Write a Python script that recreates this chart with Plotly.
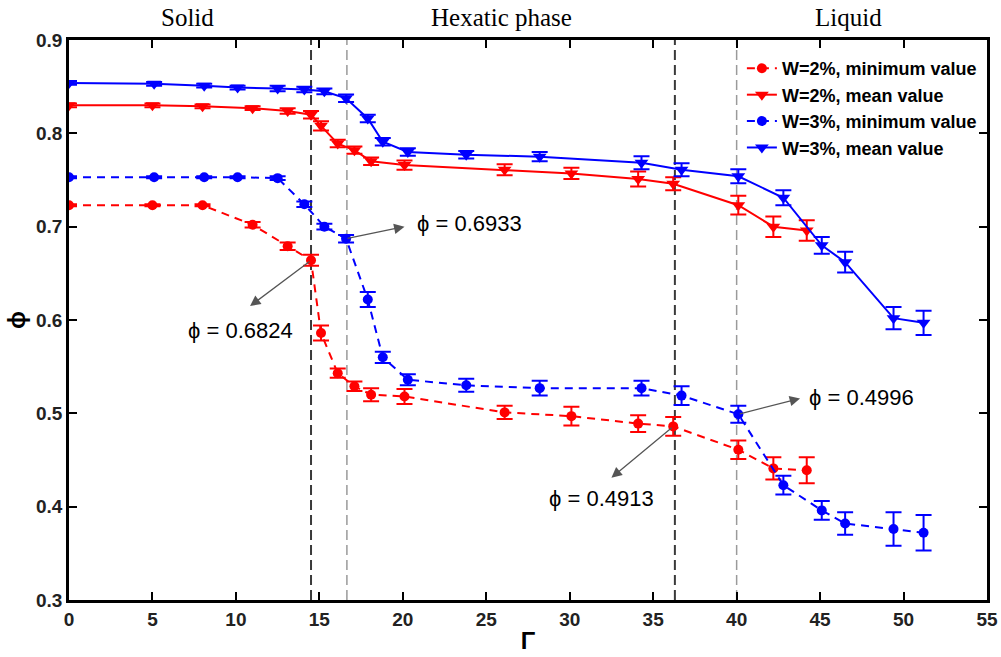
import plotly.graph_objects as go

# ---------------- data ----------------
gamma_red = [0, 5, 8, 11, 13.1, 14.5, 15.1, 16.1, 17.1, 18.1, 20.1, 26.1, 30.1, 34.1, 36.2, 40.1, 42.2, 44.2]
red_min = [0.723, 0.723, 0.723, 0.702, 0.679, 0.664, 0.586, 0.543, 0.529, 0.520, 0.518, 0.501, 0.497, 0.489, 0.486, 0.461, 0.441, 0.439]
red_min_err = [0.001, 0.001, 0.001, 0.003, 0.004, 0.006, 0.008, 0.005, 0.005, 0.007, 0.008, 0.007, 0.010, 0.009, 0.010, 0.010, 0.012, 0.014]
red_mean = [0.830, 0.830, 0.829, 0.827, 0.824, 0.820, 0.808, 0.789, 0.782, 0.770, 0.766, 0.761, 0.757, 0.751, 0.746, 0.723, 0.700, 0.696]
red_mean_err = [0.002, 0.002, 0.002, 0.002, 0.003, 0.004, 0.005, 0.004, 0.004, 0.004, 0.005, 0.006, 0.006, 0.008, 0.007, 0.010, 0.011, 0.011]

gamma_blue = [0, 5.1, 8.1, 10.1, 12.5, 14.1, 15.3, 16.6, 17.9, 18.8, 20.3, 23.8, 28.2, 34.3, 36.7, 40.1, 42.8, 45.1, 46.5, 49.4, 51.2]
blue_min = [0.753, 0.753, 0.753, 0.753, 0.752, 0.724, 0.700, 0.687, 0.622, 0.560, 0.536, 0.530, 0.527, 0.527, 0.519, 0.499, 0.423, 0.396, 0.382, 0.376, 0.372]
blue_min_err = [0.001, 0.001, 0.001, 0.001, 0.002, 0.003, 0.003, 0.004, 0.008, 0.006, 0.006, 0.007, 0.008, 0.008, 0.010, 0.009, 0.010, 0.010, 0.012, 0.018, 0.019]
blue_mean = [0.854, 0.853, 0.851, 0.849, 0.848, 0.847, 0.845, 0.8375, 0.816, 0.791, 0.780, 0.777, 0.775, 0.7685, 0.761, 0.754, 0.731, 0.680, 0.662, 0.602, 0.597]
blue_mean_err = [0.002, 0.002, 0.002, 0.002, 0.003, 0.003, 0.003, 0.004, 0.004, 0.004, 0.004, 0.004, 0.005, 0.007, 0.007, 0.0075, 0.008, 0.009, 0.011, 0.012, 0.013]

phase_boundaries = [14.5, 16.65, 36.3, 40.0]
boundary_colors = ["#3a3a3a", "#9a9a9a", "#3a3a3a", "#9a9a9a"]

phase_labels = ["Solid", "Hexatic phase", "Liquid"]
phase_label_x = [7.1, 25.9, 46.7]

x_ticks = [0, 5, 10, 15, 20, 25, 30, 35, 40, 45, 50, 55]
y_ticks = [0.3, 0.4, 0.5, 0.6, 0.7, 0.8, 0.9]

# annotations: (series, index of point, arrow head x,y, text x,y, text)
callouts = [
    ("blue_min", 7, 20.1, 0.700, 24.0, 0.703, "ϕ = 0.6933"),
    ("red_min", 5, 10.85, 0.615, 10.3, 0.589, "ϕ = 0.6824"),
    ("blue_min", 15, 43.8, 0.516, 47.5, 0.5175, "ϕ = 0.4996"),
    ("red_min", 14, 32.5, 0.431, 31.9, 0.409, "ϕ = 0.4913"),
]

RED = "#ff0000"
BLUE = "#0000ff"

fig = go.Figure()


def add_series(x, y, err, color, dash, symbol, msize, name):
    fig.add_trace(go.Scatter(
        x=x, y=y, name=f"<b>{name}</b>", mode="lines+markers",
        line=dict(color=color, width=2, dash=dash),
        marker=dict(color=color, symbol=symbol, size=msize),
        error_y=dict(type="data", array=err, visible=True, color=color, thickness=2, width=8),
    ))


add_series(gamma_red, red_min, red_min_err, RED, "8px,6px", "circle", 10, "W=2%, minimum value")
add_series(gamma_red, red_mean, red_mean_err, RED, "solid", "triangle-down", 12, "W=2%, mean value")
add_series(gamma_blue, blue_min, blue_min_err, BLUE, "8px,6px", "circle", 10, "W=3%, minimum value")
add_series(gamma_blue, blue_mean, blue_mean_err, BLUE, "solid", "triangle-down", 12, "W=3%, mean value")

for xb, col in zip(phase_boundaries, boundary_colors):
    fig.add_shape(type="line", x0=xb, x1=xb, y0=0, y1=1, xref="x", yref="y domain",
                  line=dict(color=col, width=2 if col == "#3a3a3a" else 1.5, dash="10px,5px"),
                  layer="below")

for lab, lx in zip(phase_labels, phase_label_x):
    fig.add_annotation(text=lab, x=lx, y=1.04, xref="x", yref="paper", showarrow=False,
                       xanchor="center", yanchor="middle",
                       font=dict(family="Liberation Serif, Times New Roman, serif", size=25, color="black"))

series_map = {"red_min": (gamma_red, red_min), "blue_min": (gamma_blue, blue_min)}
for key, idx, hx, hy, tx, ty, txt in callouts:
    sx, sy = series_map[key]
    fig.add_annotation(x=hx, y=hy, ax=sx[idx], ay=sy[idx], xref="x", yref="y", axref="x", ayref="y",
                       text="", showarrow=True, arrowhead=2, arrowsize=1.6, arrowwidth=1.3,
                       arrowcolor="#555555", standoff=0, startstandoff=0)
    fig.add_annotation(x=tx, y=ty, xref="x", yref="y", text=txt, showarrow=False,
                       xanchor="center", yanchor="middle",
                       font=dict(family="Liberation Sans, Arial, sans-serif", size=22, color="black"))

axis_common = dict(showline=True, mirror="ticks", linecolor="black", linewidth=2.5,
                   ticks="inside", ticklen=8, tickwidth=2, tickcolor="black",
                   showgrid=False, zeroline=False, automargin=False,
                   tickfont=dict(family="Liberation Sans, Arial, sans-serif", size=19, color="#222222"))

fig.update_xaxes(range=[0, 55], tickvals=x_ticks, ticktext=[f"<b>{v}</b>" for v in x_ticks],
                 title=dict(text="<b>Γ</b>", font=dict(family="Liberation Sans, Arial", size=24, color="black"), standoff=4),
                 **axis_common)
fig.update_yaxes(range=[0.3, 0.9], tickvals=y_ticks, ticktext=[f"<b>{v:.1f}</b>" for v in y_ticks],
                 title=dict(text="<b>ϕ</b>", font=dict(family="Liberation Sans, Arial", size=24, color="black"), standoff=4),
                 **axis_common)

fig.update_layout(
    width=1001, height=657,
    margin=dict(l=69, r=14, t=40, b=57),
    paper_bgcolor="white", plot_bgcolor="white",
    showlegend=True,
    legend=dict(x=0.733, y=0.982, xanchor="left", yanchor="top", bgcolor="rgba(0,0,0,0)",
                font=dict(family="Liberation Sans, Arial, sans-serif", size=18, color="black"),
                itemwidth=30, tracegroupgap=0),
)

fig.write_html("out.html", config={"displayModeBar": False},
               post_script="document.body.style.margin='0px';document.body.style.overflow='hidden';")
